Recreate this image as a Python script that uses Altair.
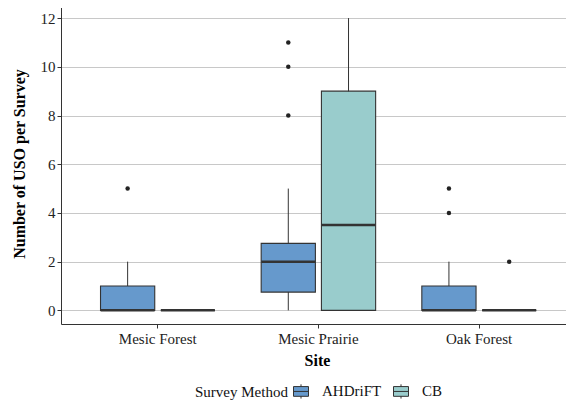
import altair as alt
import pandas as pd

site_order = ["Mesic Forest", "Mesic Prairie", "Oak Forest"]
method_order = ["AHDriFT", "CB"]

sites = ["Mesic Forest", "Mesic Forest", "Mesic Prairie", "Mesic Prairie", "Oak Forest", "Oak Forest"]
methods = ["AHDriFT", "CB", "AHDriFT", "CB", "AHDriFT", "CB"]
lower = [0, 0, 0, 0, 0, 0]
q1 = [0, 0, 0.75, 0, 0, 0]
median = [0, 0, 2, 3.5, 0, 0]
q3 = [1, 0, 2.75, 9, 1, 0]
upper = [2, 0, 5, 12, 2, 0]

out_sites = ["Mesic Forest", "Mesic Prairie", "Mesic Prairie", "Mesic Prairie", "Oak Forest", "Oak Forest", "Oak Forest"]
out_methods = ["AHDriFT", "AHDriFT", "AHDriFT", "AHDriFT", "AHDriFT", "AHDriFT", "CB"]
out_values = [5, 8, 10, 11, 4, 5, 2]

colors = ["#6699CC", "#99CCCC"]

box_df = pd.DataFrame({"Site": sites, "Method": methods, "lower": lower, "q1": q1,
                       "median": median, "q3": q3, "upper": upper})
out_df = pd.DataFrame({"Site": out_sites, "Method": out_methods, "value": out_values})

FONT = "Liberation Serif"
DARK = "#333333"

x_enc = alt.X("Site:N",
              scale=alt.Scale(domain=site_order, paddingInner=0.25, paddingOuter=0.2185, align=0.52),
              axis=alt.Axis(title="Site", labelAngle=0, tickSize=4, tickColor=DARK,
                            domainColor=DARK, labelColor="#222222", labelFontSize=15,
                            labelFont=FONT, titleFont=FONT,
                            titleFontSize=16, titleFontWeight="bold", labelPadding=3,
                            titlePadding=6, grid=False))
xo_enc = alt.XOffset("Method:N",
                     scale=alt.Scale(domain=method_order, paddingInner=0.1, paddingOuter=0.05))
y_scale = alt.Scale(domain=[-0.56, 12.62], nice=False, zero=False)
y_axis = alt.Axis(title="Number of USO per Survey", values=[0, 2, 4, 6, 8, 10, 12],
                  tickSize=4, tickColor=DARK, domainColor=DARK, labelColor="#222222",
                  labelFont=FONT, titleFont=FONT,
                  labelFontSize=15, titleFontSize=16, titleFontWeight="bold",
                  labelPadding=2, titlePadding=13, grid=True, gridColor="#C8C8C8",
                  gridWidth=1.2)

base = alt.Chart(box_df)

whisk = base.mark_rule(color=DARK, strokeWidth=1).encode(
    x=x_enc, xOffset=xo_enc,
    y=alt.Y("lower:Q", scale=y_scale, axis=y_axis),
    y2="upper:Q",
)

box = base.mark_bar(stroke=DARK, strokeWidth=1.1, opacity=1).encode(
    x=x_enc, xOffset=xo_enc,
    y=alt.Y("q1:Q", scale=y_scale, axis=y_axis),
    y2="q3:Q",
    color=alt.Color("Method:N", scale=alt.Scale(domain=method_order, range=colors),
                    legend=alt.Legend(title="Survey Method")),
)

med = base.mark_tick(color=DARK, thickness=2.5, size=54, opacity=1).encode(
    x=x_enc, xOffset=xo_enc,
    y=alt.Y("median:Q", scale=y_scale, axis=y_axis),
)

pts = alt.Chart(out_df).mark_circle(color="#222222", size=20, opacity=1).encode(
    x=x_enc, xOffset=xo_enc,
    y=alt.Y("value:Q", scale=y_scale, axis=y_axis),
)

chart = alt.layer(whisk, box, med, pts).properties(
    width=512, height=321,
    autosize="none",
    padding={"left": 53, "top": -5, "right": -7, "bottom": 80},
).configure(
    font=FONT,
).configure_view(
    stroke=None,
).configure_legend(
    orient="none", legendX=134, legendY=380, direction="horizontal",
    titleOrient="left", titleFontWeight="normal", titleFontSize=15,
    titleFont=FONT, labelFont=FONT,
    titleColor="#111111", labelFontSize=15, labelColor="#111111",
    titleBaseline="middle", titlePadding=5,
    symbolType="M-1,-0.65H1V0.65H-1Z M-1,0H1 M0,-0.65V-0.95 M0,0.65V0.95",
    symbolSize=225, symbolStrokeColor=DARK, symbolStrokeWidth=1,
    symbolOpacity=1, labelOffset=13, columnPadding=9,
)

chart.save("out.html", embed_options={"renderer": "svg", "actions": False})
